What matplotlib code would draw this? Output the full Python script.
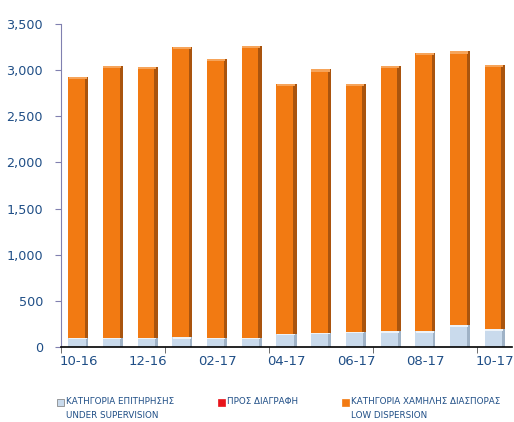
import matplotlib
matplotlib.use("Agg")
import matplotlib.pyplot as plt
from matplotlib.patches import Rectangle
import numpy as np

months = ["10-16", "11-16", "12-16", "01-17", "02-17", "03-17", "04-17",
          "05-17", "06-17", "07-17", "08-17", "09-17", "10-17"]
totals = [2925, 3045, 3035, 3250, 3120, 3260, 2850, 3010, 2855, 3045, 3190, 3205, 3055]
under_supervision = [100, 100, 100, 105, 100, 100, 145, 155, 165, 170, 175, 240, 190]
to_delete = [0, 0, 0, 0, 0, 0, 0, 0, 0, 0, 0, 0, 0]
low_dispersion = [t - s - d for t, s, d in zip(totals, under_supervision, to_delete)]

legend_labels = [("ΚΑΤΗΓΟΡΙΑ ΕΠΙΤΗΡΗΣΗΣ", "UNDER SUPERVISION"),
                 ("ΠΡΟΣ ΔΙΑΓΡΑΦΗ", ""),
                 ("ΚΑΤΗΓΟΡΙΑ ΧΑΜΗΛΗΣ ΔΙΑΣΠΟΡΑΣ", "LOW DISPERSION")]

text_col = "#1F4E86"
orange = "#F27A12"
orange_dark = "#A9540E"
blue = "#C9DAEC"
blue_dark = "#9FB2C6"
red = "#E8141B"

fig = plt.figure(figsize=(5.14, 4.22), dpi=100)
ax = fig.add_axes([61/514, 1-347/422, 451/514, 323/422])

x = np.arange(len(months))
w = 0.58
sup = np.array(under_supervision)
dele = np.array(to_delete)
low = np.array(low_dispersion)

# under supervision (light blue with darker right edge)
ax.bar(x, sup, width=w, color=blue_dark, linewidth=0)
ax.bar(x - 0.04, sup, width=w - 0.08, color=blue, linewidth=0)
# to delete
ax.bar(x, dele, bottom=sup, width=w, color=red, linewidth=0)
# low dispersion (orange with shaded right edge)
ax.bar(x, low, bottom=sup + dele, width=w, color=orange_dark, linewidth=0)
ax.bar(x - 0.05, low, bottom=sup + dele, width=w - 0.1, color=orange, linewidth=0)
# light cap on top of orange and light rim on top of blue
ax.bar(x - 0.02, [25]*len(x), bottom=sup + dele + low - 25, width=w - 0.06,
       color="#F6A45A", linewidth=0)
ax.bar(x - 0.02, [18]*len(x), bottom=sup - 18, width=w - 0.06,
       color="#EEF3F8", linewidth=0)

ax.set_xlim(-0.5, len(months) - 0.5)
ax.set_ylim(0, 3500)
ax.set_yticks(np.arange(0, 3501, 500))
ax.set_yticklabels([f"{v:,}" for v in range(0, 3501, 500)])

ax.set_xticks(x[::2])
ax.set_xticklabels(months[::2])
ax.set_xticks([-0.5, 2.5, 5.5, 8.5, 11.5], minor=True)
ax.tick_params(axis="x", which="major", length=0, pad=6)
ax.tick_params(axis="x", which="minor", length=4, direction="out", color="#555555")
ax.tick_params(axis="y", length=4, color="#8080B0", pad=9)
for lab in ax.get_xticklabels():
    lab.set_color(text_col)
    lab.set_fontsize(9.5)
for lab in ax.get_yticklabels():
    lab.set_color(text_col)
    lab.set_fontsize(9.2)

for s in ["top", "right"]:
    ax.spines[s].set_visible(False)
ax.spines["left"].set_color("#8080B0")
ax.spines["bottom"].set_color("black")
ax.spines["bottom"].set_linewidth(1.2)

# legend drawn manually
leg_x = [57, 218, 342]
leg_cols = [blue, red, orange]
for (l1, l2), px, c in zip(legend_labels, leg_x, leg_cols):
    fig.patches.append(Rectangle((px/514, 1-406/422), 7/514, 7/422,
                                 transform=fig.transFigure, facecolor=c,
                                 edgecolor="#777777" if c == blue else c, linewidth=0.5))
    fig.text((px + 9)/514, 1-402/422, l1, fontsize=6.3, color=text_col,
             va="center", ha="left", family="DejaVu Sans")
    if l2:
        fig.text((px + 9)/514, 1-416/422, l2, fontsize=6.3, color=text_col,
                 va="center", ha="left", family="DejaVu Sans")

fig.savefig("out.png", dpi=100)
